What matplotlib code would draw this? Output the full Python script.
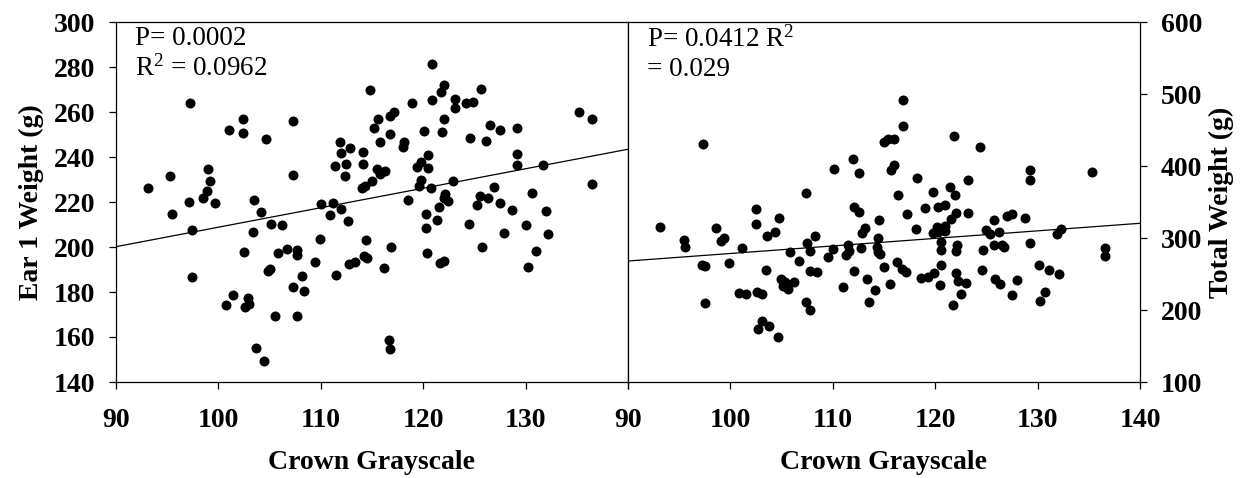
import numpy as np
import matplotlib
matplotlib.use('Agg')
import matplotlib.pyplot as plt

plt.rcParams['font.family'] = ['Liberation Serif', 'DejaVu Serif']
plt.rcParams['mathtext.fontset'] = 'custom'
plt.rcParams['mathtext.rm'] = 'Liberation Serif'
plt.rcParams['mathtext.it'] = 'Liberation Serif:italic'
plt.rcParams['mathtext.bf'] = 'Liberation Serif:bold'

# left panel: crown grayscale vs ear 1 weight
ear_x = [93.1, 95.3, 95.5, 97.2, 97.1, 97.4, 97.4, 98.5, 98.9, 99.0,
         99.2, 99.7, 101.0, 100.7, 101.4, 102.4, 102.4, 102.5, 102.6, 103.0,
         102.9, 103.5, 103.4, 103.7, 104.2, 104.5, 104.6, 104.8, 105.0, 105.1,
         105.5, 105.8, 106.2, 106.7, 107.3, 107.3, 107.3, 107.7, 107.7, 107.7,
         108.2, 108.4, 109.4, 109.9, 110.0, 110.9, 111.2, 111.4, 111.5, 111.9,
         112.0, 112.0, 112.4, 112.5, 112.7, 112.8, 113.3, 112.9, 114.0, 114.3,
         114.1, 114.1, 114.4, 114.2, 114.5, 114.8, 115.0, 115.2, 115.6, 115.8,
         115.5, 115.8, 116.3, 116.8, 117.1, 116.8, 116.9, 116.2, 116.7, 116.8,
         118.1, 118.0, 118.9, 118.5, 119.4, 119.8, 119.8, 119.6, 120.1, 120.5,
         120.5, 120.8, 120.9, 120.9, 120.3, 120.3, 120.4, 121.7, 122.0, 122.0,
         121.8, 121.5, 121.3, 121.6, 122.0, 122.1, 122.0, 122.4, 122.9, 123.1,
         123.1, 124.2, 124.9, 124.6, 124.5, 125.6, 125.3, 125.5, 125.7, 126.1,
         126.3, 126.5, 126.9, 127.5, 127.5, 127.9, 128.7, 129.2, 129.2, 129.2,
         130.0, 130.2, 130.6, 131.0, 131.7, 132.0, 132.2, 135.2, 136.5, 136.5]
ear_y = [226.4, 231.4, 214.5, 264.1, 220.1, 207.4, 186.8, 221.9, 224.9, 234.8,
         229.3, 219.4, 251.9, 174.2, 178.8, 257.0, 250.5, 197.6, 173.3, 174.5,
         177.4, 221.0, 206.5, 155.1, 215.7, 149.3, 248.1, 189.3, 190.2, 210.1,
         169.2, 197.2, 209.8, 199.0, 256.1, 232.1, 182.1, 198.7, 196.4, 169.5,
         187.3, 180.6, 193.2, 203.4, 219.0, 214.2, 219.7, 236.0, 187.6, 246.8,
         241.8, 216.9, 231.4, 236.9, 211.7, 192.4, 193.5, 243.9, 226.4, 227.2,
         242.1, 236.9, 203.0, 196.1, 195.2, 269.6, 229.5, 252.8, 256.8, 246.7,
         234.5, 232.3, 233.8, 258.4, 260.1, 250.1, 200.1, 190.5, 158.5, 154.7,
         246.8, 244.3, 264.0, 220.8, 235.7, 237.9, 229.9, 227.1, 251.6, 240.7,
         235.0, 226.4, 281.2, 265.5, 214.8, 208.4, 197.2, 268.7, 272.1, 256.9,
         251.0, 217.6, 212.1, 192.7, 193.9, 223.6, 221.6, 220.4, 229.5, 265.8,
         261.9, 264.1, 264.6, 248.6, 210.2, 270.4, 218.5, 222.7, 200.1, 247.0,
         221.9, 254.2, 226.7, 252.1, 219.6, 206.4, 216.4, 253.0, 241.5, 236.3,
         209.8, 191.0, 224.1, 198.4, 236.3, 216.0, 205.8, 259.9, 256.8, 228.0]

# right panel: crown grayscale vs total weight
tot_x = [93.1, 95.5, 95.6, 97.3, 97.2, 97.5, 97.5, 98.6, 99.4, 99.1,
         99.9, 101.1, 100.8, 101.5, 102.5, 102.5, 102.6, 103.1, 103.1, 102.7,
         103.8, 103.5, 103.6, 104.4, 104.7, 104.6, 104.9, 105.3, 105.1, 105.6,
         105.8, 106.2, 106.7, 107.4, 107.5, 107.8, 107.8, 108.5, 108.3, 107.4,
         107.8, 109.5, 110.0, 110.1, 111.0, 111.5, 111.6, 111.3, 112.0, 112.6,
         112.1, 112.6, 113.1, 112.9, 112.8, 112.1, 113.3, 113.5, 114.5, 114.4,
         114.3, 114.4, 114.6, 114.1, 115.0, 115.0, 115.4, 116.0, 116.9, 116.9,
         121.8, 124.4, 115.7, 116.0, 118.2, 123.2, 129.3, 129.3, 135.3, 116.4,
         119.8, 121.4, 121.9, 119.0, 120.3, 121.0, 117.2, 122.0, 121.5, 123.2,
         118.1, 120.2, 121.0, 119.8, 120.3, 121.0, 125.7, 127.0, 127.5, 128.8,
         125.0, 125.4, 126.2, 131.9, 132.3, 120.6, 120.6, 122.1, 122.0, 124.7,
         125.7, 126.5, 126.7, 129.3, 136.6, 136.6, 116.3, 116.8, 117.1, 120.6,
         118.6, 119.3, 119.9, 122.0, 124.6, 130.1, 131.1, 132.1, 125.8, 128.0,
         115.6, 120.5, 122.2, 123.0, 122.5, 121.7, 126.3, 127.5, 130.7, 130.2]
tot_y = [314.8, 297.2, 287.9, 430.1, 262.9, 260.7, 210.1, 313.9, 300.0, 296.3,
         265.7, 285.7, 223.6, 221.8, 340.7, 319.0, 225.0, 222.2, 185.1, 173.6,
         177.8, 255.6, 302.8, 308.3, 327.8, 162.5, 242.6, 238.9, 233.3, 229.6,
         281.0, 238.9, 268.1, 362.9, 292.6, 282.4, 254.6, 252.8, 302.8, 211.6,
         200.0, 274.0, 284.7, 395.4, 232.4, 290.3, 282.4, 276.0, 409.3, 390.3,
         343.5, 335.7, 313.5, 307.4, 285.7, 254.6, 243.0, 211.1, 325.0, 299.5,
         287.9, 281.0, 277.4, 227.8, 433.8, 260.1, 437.0, 437.9, 491.7, 455.6,
         442.1, 425.9, 394.4, 400.9, 383.8, 380.6, 394.0, 381.0, 391.2, 359.3,
         363.5, 371.3, 359.7, 342.1, 342.6, 345.4, 333.3, 335.2, 326.8, 334.3,
         312.1, 315.8, 316.7, 306.5, 308.8, 310.1, 325.0, 330.5, 332.9, 327.3,
         311.1, 305.5, 308.3, 305.5, 312.5, 294.9, 283.3, 290.3, 282.0, 283.3,
         290.3, 290.3, 287.1, 293.5, 285.7, 275.0, 266.2, 256.5, 253.2, 262.5,
         244.9, 246.3, 251.0, 251.0, 255.6, 262.1, 255.1, 250.0, 242.6, 241.7,
         235.7, 234.3, 240.7, 237.9, 221.8, 206.5, 235.7, 221.3, 225.5, 212.0]

# fitted lines (slope, intercept)
ear_fit = (0.866, 122.2)
tot_fit = (1.048, 173.7)

ear_text = 'P= 0.0002\nR$^{2}$ = 0.0962'
tot_text = 'P= 0.0412 R$^{2}$\n= 0.029'

x_ticks = [90, 100, 110, 120, 130, 140]
ear_ticks = [140, 160, 180, 200, 220, 240, 260, 280, 300]
tot_ticks = [100, 200, 300, 400, 500, 600]

fs = 20      # ticks and axis labels
fs_txt = 19.5  # P / R2 notes

fig = plt.figure(figsize=(12.55, 4.78), dpi=100)
ax1 = fig.add_axes([116 / 1255, 1 - 382 / 478, 512 / 1255, 360 / 478])
ax2 = fig.add_axes([628 / 1255, 1 - 382 / 478, 512 / 1255, 360 / 478])

for ax, xs, ys, fit, txt in [(ax1, ear_x, ear_y, ear_fit, ear_text),
                             (ax2, tot_x, tot_y, tot_fit, tot_text)]:
    ax.plot(xs, ys, 'o', color='black', markersize=7.2, markeredgewidth=0)
    ax.axline((0, fit[1]), slope=fit[0], color='black', linewidth=0.9)
    ax.text(0.038, 0.988, txt, transform=ax.transAxes, ha='left', va='top',
            fontsize=fs_txt, linespacing=1.2)
    ax.set_xlim(90, 140)
    ax.set_xticks(x_ticks)
    ax.set_xlabel('Crown Grayscale', fontsize=fs, fontweight='bold', labelpad=12)
    for s in ax.spines.values():
        s.set_linewidth(0.9)
    ax.tick_params(direction='out', length=5, width=0.9, labelsize=fs)
    ax.tick_params(axis='x', pad=14)
    ax.tick_params(axis='y', pad=10)
    for lab in ax.get_xticklabels() + ax.get_yticklabels():
        lab.set_fontweight('bold')

ax1.set_ylim(140, 300)
ax1.set_yticks(ear_ticks)
ax1.set_xticklabels(['90', '100', '110', '120', '130', ''], fontweight='bold')
ax1.set_ylabel('Ear 1 Weight (g)', fontsize=fs, fontweight='bold', labelpad=7)

ax2.set_ylim(100, 600)
ax2.set_yticks(tot_ticks)
ax2.yaxis.tick_right()
ax2.yaxis.set_label_position('right')
ax2.set_ylabel('Total Weight (g)', fontsize=fs, fontweight='bold', labelpad=5)
for lab in ax2.get_yticklabels():
    lab.set_fontweight('bold')

fig.savefig('out.png', dpi=100)
